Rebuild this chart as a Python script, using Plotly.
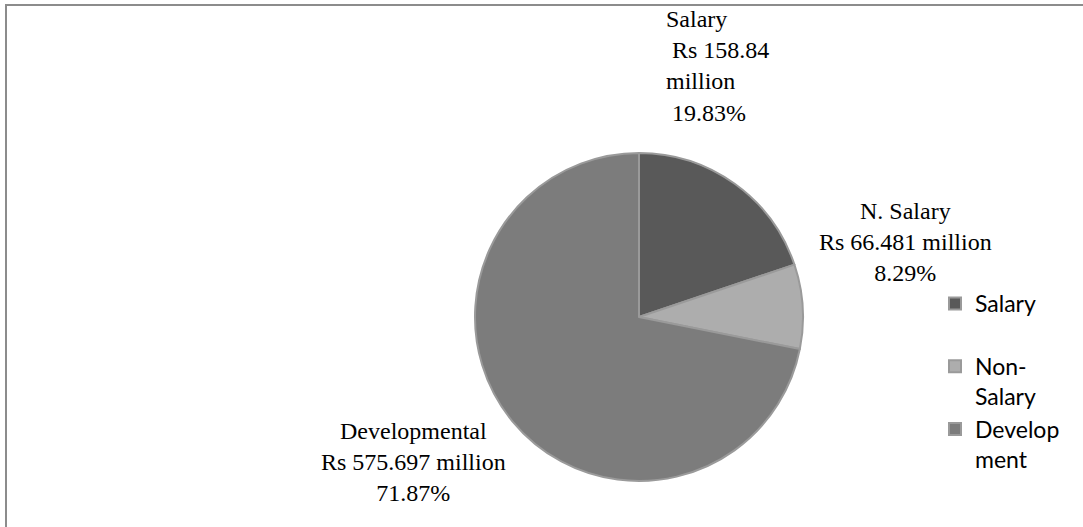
import plotly.graph_objects as go

categories = ["Salary<br><span style='font-size:4px'> </span>", "Non-<br>Salary", "Develop<br>ment"]
amounts_million = [158.84, 66.481, 575.697]
percent_labels = ["19.83%", "8.29%", "71.87%"]
slice_colors = ["#595959", "#adadad", "#7c7c7c"]

W, H = 1083, 527
cx, cy, r = 639, 317, 164

fig = go.Figure(go.Pie(
    labels=categories,
    values=amounts_million,
    sort=False,
    direction="clockwise",
    rotation=0,
    textinfo="none",
    hoverinfo="label+value+percent",
    marker=dict(colors=slice_colors, line=dict(color="#9a9a9a", width=2)),
    domain=dict(x=[(cx - r) / W, (cx + r) / W], y=[1 - (cy + r) / H, 1 - (cy - r) / H]),
))

serif = dict(family="Liberation Serif, Times New Roman, serif", size=24, color="#000000")
fig.add_annotation(x=664 / W, y=1 - 4 / H, xref="paper", yref="paper", xanchor="left", yanchor="top",
                   align="left", showarrow=False, font=serif,
                   text="Salary<br>\u00a0Rs %.2f<br>million<br>\u00a0%s" % (amounts_million[0], percent_labels[0]))
fig.add_annotation(x=905 / W, y=1 - 196 / H, xref="paper", yref="paper", xanchor="center", yanchor="top",
                   align="center", showarrow=False, font=serif,
                   text="N. Salary<br>Rs %.3f million<br>%s" % (amounts_million[1], percent_labels[1]))
fig.add_annotation(x=413 / W, y=1 - 416 / H, xref="paper", yref="paper", xanchor="center", yanchor="top",
                   align="center", showarrow=False, font=serif,
                   text="Developmental<br>Rs %.3f million<br>%s" % (amounts_million[2], percent_labels[2]))

fig.add_shape(type="rect", xref="paper", yref="paper", x0=6 / W, x1=1.02, y0=-0.02, y1=1 - 5 / H,
              line=dict(color="#8c8c8c", width=2), fillcolor="rgba(0,0,0,0)")

fig.update_layout(
    width=W, height=H,
    margin=dict(l=0, r=0, t=0, b=0),
    paper_bgcolor="white", plot_bgcolor="white",
    showlegend=True,
    legend=dict(x=935 / W, y=1 - 282 / H, xanchor="left", yanchor="top", valign="top",
                font=dict(family="Lato, Carlito, Calibri, sans-serif", size=23, color="#000000"),
                bgcolor="rgba(0,0,0,0)", traceorder="normal"),
)

fig.write_html("out.html")
